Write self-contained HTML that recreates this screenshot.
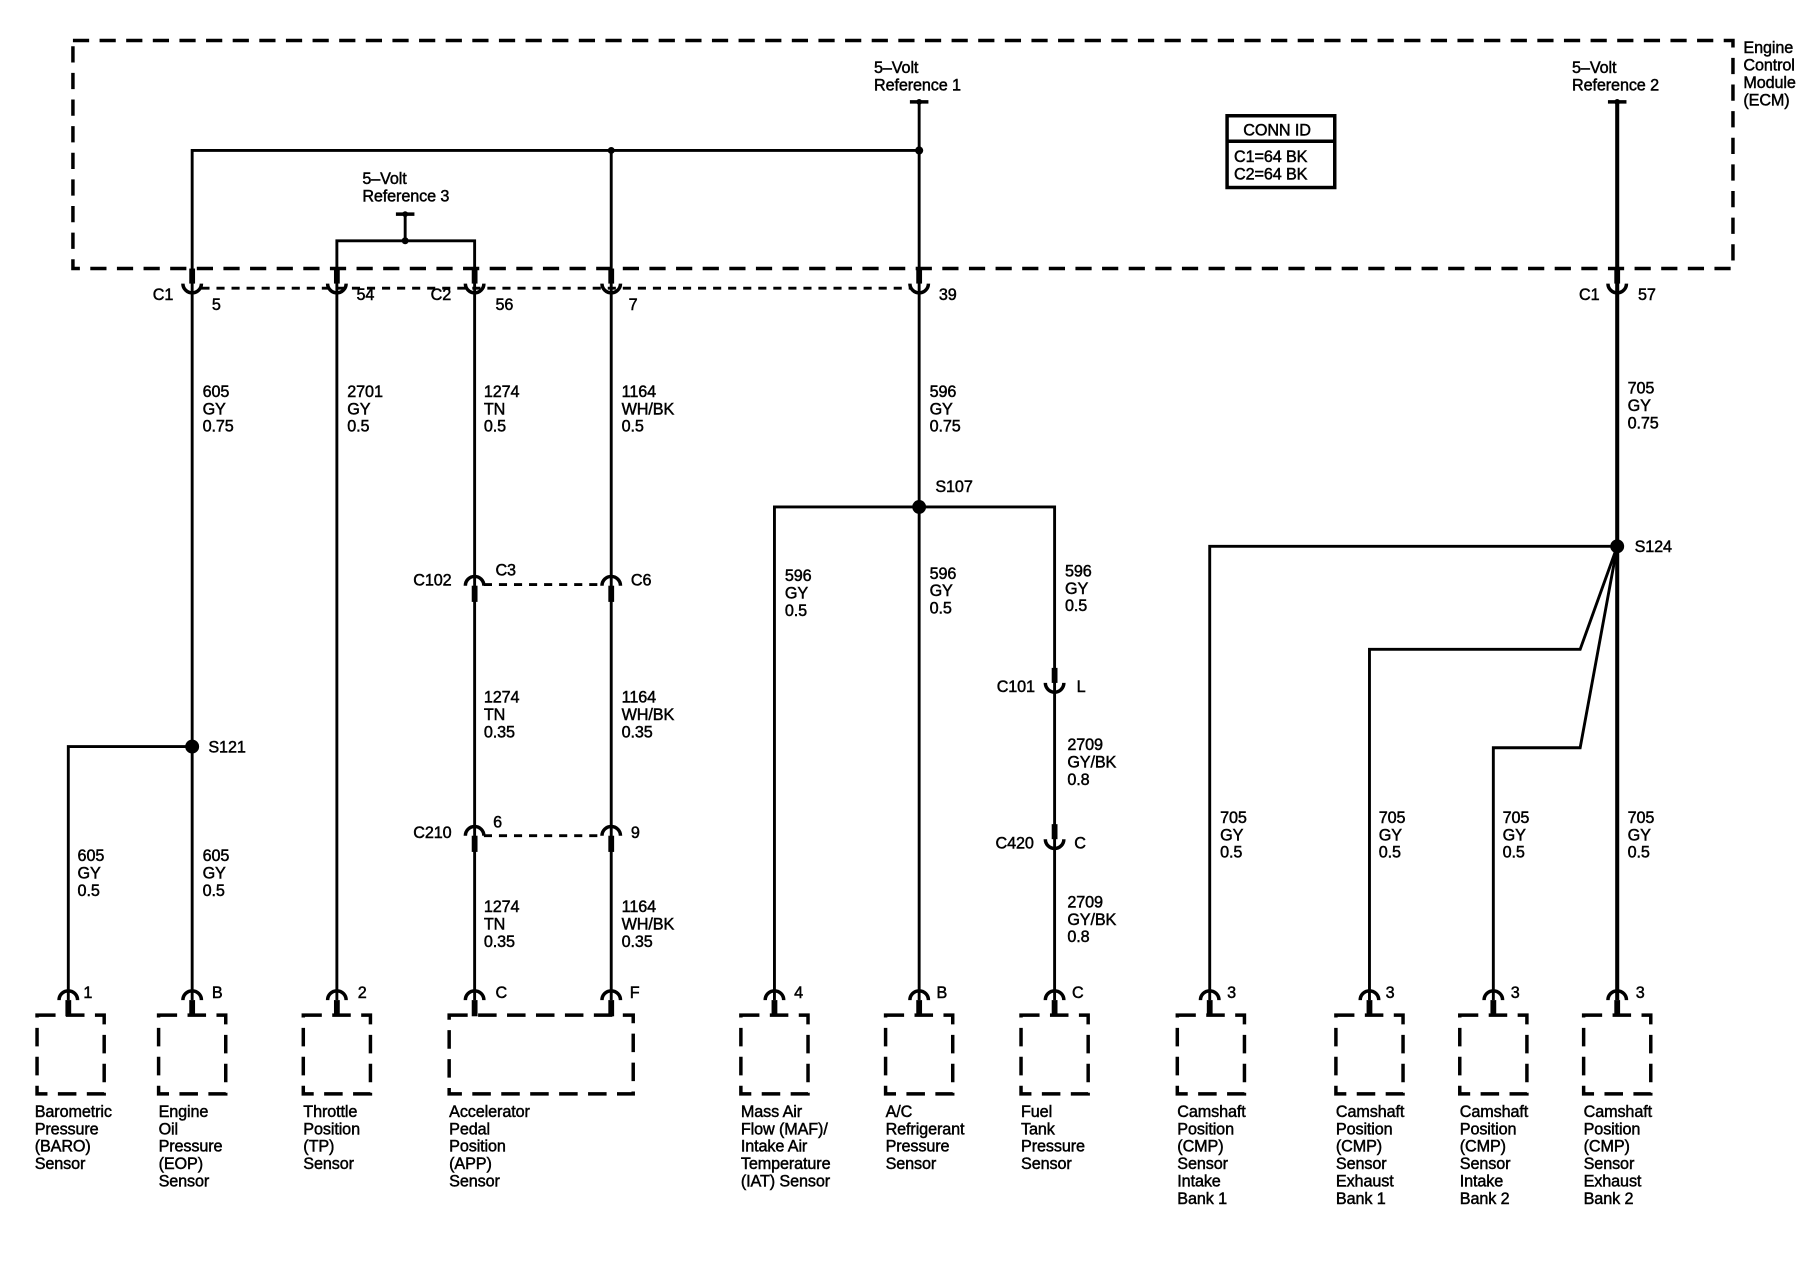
<!DOCTYPE html>
<html><head><meta charset="utf-8"><style>
html,body{margin:0;padding:0;background:#fff;}
svg{display:block;}
text{font-family:"Liberation Sans",sans-serif;font-size:14px;fill:#000;letter-spacing:-0.1px;stroke:#000;stroke-width:0.4px;}
</style></head><body>
<svg width="1814" height="1264" viewBox="0 0 1567 1092" preserveAspectRatio="none" xmlns="http://www.w3.org/2000/svg">
<defs>
<g id="cu"><path d="M-8,0 A8,8 0 0 0 8,0" fill="none" stroke="#000" stroke-width="3"/><rect x="-2.5" y="-13" width="5" height="13"/></g>
<g id="ca"><path d="M-8,0 A8,8 0 0 1 8,0" fill="none" stroke="#000" stroke-width="3"/><rect x="-2.5" y="0" width="5" height="14"/></g>
<g id="ref"><line x1="-8" y1="0" x2="8" y2="0" stroke="#000" stroke-width="3"/><circle cx="0" cy="0" r="2.5"/></g>
</defs>
<g fill="none" stroke="#000" stroke-width="3" stroke-dasharray="14 9">
<rect x="63" y="35" width="1434" height="197"/>
</g>
<g fill="none" stroke="#000" stroke-width="3" stroke-dasharray="16 9">
<rect x="32" y="877" width="58" height="68"/>
<rect x="137" y="877" width="58" height="68"/>
<rect x="262" y="877" width="58" height="68"/>
<rect x="388" y="877" width="159" height="68"/>
<rect x="640" y="877" width="58" height="68"/>
<rect x="765" y="877" width="58" height="68"/>
<rect x="882" y="877" width="58" height="68"/>
<rect x="1017" y="877" width="58" height="68"/>
<rect x="1154" y="877" width="58" height="68"/>
<rect x="1261" y="877" width="58" height="68"/>
<rect x="1368" y="877" width="58" height="68"/>
</g>
<g fill="none" stroke="#000" stroke-width="2.5" stroke-dasharray="7 6">
<line x1="174" y1="249" x2="786" y2="249"/>
<line x1="418" y1="505" x2="520" y2="505"/>
<line x1="418" y1="722" x2="520" y2="722"/>
</g>
<g fill="none" stroke="#000" stroke-width="2.5">
<polyline points="166,864 166,130 794,130"/>
<line x1="794" y1="88" x2="794" y2="864"/>
<line x1="528" y1="130" x2="528" y2="864"/>
<line x1="350" y1="185" x2="350" y2="208"/>
<polyline points="291,864 291,208 410,208 410,864"/>
<polyline points="59,864 59,645 166,645"/>
<polyline points="669,864 669,438 911,438 911,864"/>
<polyline points="1045,864 1045,472 1397,472"/>
<polyline points="1183,864 1183,561 1365,561 1397,472"/>
<polyline points="1290,864 1290,646 1365,646 1397,472"/>
<rect x="1060" y="100" width="93" height="62" stroke-width="3"/>
<line x1="1060" y1="122" x2="1153" y2="122" stroke-width="3"/>
</g>
<line x1="1397" y1="88" x2="1397" y2="864" stroke="#000" stroke-width="3.5"/>
<circle cx="528" cy="130" r="3"/><circle cx="794" cy="130" r="3.5"/><circle cx="350" cy="208" r="3"/>
<circle cx="166" cy="645" r="6"/><circle cx="794" cy="438" r="6"/><circle cx="1397" cy="472" r="6"/>
<use href="#ref" x="794" y="88"/><use href="#ref" x="350" y="185"/><use href="#ref" x="1397" y="88"/>
<use href="#cu" x="166" y="245"/><use href="#cu" x="291" y="245"/><use href="#cu" x="410" y="245"/><use href="#cu" x="528" y="245"/><use href="#cu" x="794" y="245"/><use href="#cu" x="1397" y="245"/>
<use href="#ca" x="410" y="506"/><use href="#ca" x="528" y="506"/><use href="#ca" x="410" y="722"/><use href="#ca" x="528" y="722"/>
<use href="#cu" x="911" y="590"/><use href="#cu" x="911" y="725"/>
<use href="#ca" x="59" y="864"/><use href="#ca" x="166" y="864"/><use href="#ca" x="291" y="864"/><use href="#ca" x="410" y="864"/><use href="#ca" x="528" y="864"/><use href="#ca" x="669" y="864"/><use href="#ca" x="794" y="864"/><use href="#ca" x="911" y="864"/><use href="#ca" x="1045" y="864"/><use href="#ca" x="1183" y="864"/><use href="#ca" x="1290" y="864"/><use href="#ca" x="1397" y="864"/>
<text x="1506" y="46">Engine</text><text x="1506" y="61">Control</text><text x="1506" y="76">Module</text><text x="1506" y="91">(ECM)</text>
<text x="755" y="63">5–Volt</text><text x="755" y="78">Reference 1</text>
<text x="1358" y="63">5–Volt</text><text x="1358" y="78">Reference 2</text>
<text x="313" y="159">5–Volt</text><text x="313" y="174">Reference 3</text>
<text x="1074" y="117">CONN ID</text><text x="1066" y="140">C1=64 BK</text><text x="1066" y="155">C2=64 BK</text>
<text x="132" y="259">C1</text><text x="183" y="268">5</text><text x="308" y="259">54</text><text x="372" y="259">C2</text><text x="428" y="268">56</text><text x="543" y="268">7</text><text x="811" y="259">39</text><text x="1364" y="259">C1</text><text x="1415" y="259">57</text>
<text x="175" y="343">605</text><text x="175" y="358">GY</text><text x="175" y="373">0.75</text>
<text x="300" y="343">2701</text><text x="300" y="358">GY</text><text x="300" y="373">0.5</text>
<text x="418" y="343">1274</text><text x="418" y="358">TN</text><text x="418" y="373">0.5</text>
<text x="537" y="343">1164</text><text x="537" y="358">WH/BK</text><text x="537" y="373">0.5</text>
<text x="803" y="343">596</text><text x="803" y="358">GY</text><text x="803" y="373">0.75</text>
<text x="1406" y="340">705</text><text x="1406" y="355">GY</text><text x="1406" y="370">0.75</text>
<text x="808" y="425">S107</text><text x="1412" y="477">S124</text><text x="180" y="650">S121</text>
<text x="357" y="506">C102</text><text x="428" y="497">C3</text><text x="545" y="506">C6</text>
<text x="357" y="724">C210</text><text x="426" y="715">6</text><text x="545" y="724">9</text>
<text x="418" y="607">1274</text><text x="418" y="622">TN</text><text x="418" y="637">0.35</text>
<text x="537" y="607">1164</text><text x="537" y="622">WH/BK</text><text x="537" y="637">0.35</text>
<text x="418" y="788">1274</text><text x="418" y="803">TN</text><text x="418" y="818">0.35</text>
<text x="537" y="788">1164</text><text x="537" y="803">WH/BK</text><text x="537" y="818">0.35</text>
<text x="678" y="502">596</text><text x="678" y="517">GY</text><text x="678" y="532">0.5</text>
<text x="803" y="500">596</text><text x="803" y="515">GY</text><text x="803" y="530">0.5</text>
<text x="920" y="498">596</text><text x="920" y="513">GY</text><text x="920" y="528">0.5</text>
<text x="861" y="598">C101</text><text x="930" y="598">L</text>
<text x="860" y="733">C420</text><text x="928" y="733">C</text>
<text x="922" y="648">2709</text><text x="922" y="663">GY/BK</text><text x="922" y="678">0.8</text>
<text x="922" y="784">2709</text><text x="922" y="799">GY/BK</text><text x="922" y="814">0.8</text>
<text x="67" y="744">605</text><text x="67" y="759">GY</text><text x="67" y="774">0.5</text>
<text x="175" y="744">605</text><text x="175" y="759">GY</text><text x="175" y="774">0.5</text>
<text x="1054" y="711">705</text><text x="1054" y="726">GY</text><text x="1054" y="741">0.5</text>
<text x="1191" y="711">705</text><text x="1191" y="726">GY</text><text x="1191" y="741">0.5</text>
<text x="1298" y="711">705</text><text x="1298" y="726">GY</text><text x="1298" y="741">0.5</text>
<text x="1406" y="711">705</text><text x="1406" y="726">GY</text><text x="1406" y="741">0.5</text>
<text x="72" y="862">1</text><text x="183" y="862">B</text><text x="309" y="862">2</text><text x="428" y="862">C</text><text x="544" y="862">F</text><text x="686" y="862">4</text><text x="809" y="862">B</text><text x="926" y="862">C</text><text x="1060" y="862">3</text><text x="1197" y="862">3</text><text x="1305" y="862">3</text><text x="1413" y="862">3</text>
<text x="30" y="965">Barometric</text><text x="30" y="980">Pressure</text><text x="30" y="995">(BARO)</text><text x="30" y="1010">Sensor</text>
<text x="137" y="965">Engine</text><text x="137" y="980">Oil</text><text x="137" y="995">Pressure</text><text x="137" y="1010">(EOP)</text><text x="137" y="1025">Sensor</text>
<text x="262" y="965">Throttle</text><text x="262" y="980">Position</text><text x="262" y="995">(TP)</text><text x="262" y="1010">Sensor</text>
<text x="388" y="965">Accelerator</text><text x="388" y="980">Pedal</text><text x="388" y="995">Position</text><text x="388" y="1010">(APP)</text><text x="388" y="1025">Sensor</text>
<text x="640" y="965">Mass Air</text><text x="640" y="980">Flow (MAF)/</text><text x="640" y="995">Intake Air</text><text x="640" y="1010">Temperature</text><text x="640" y="1025">(IAT) Sensor</text>
<text x="765" y="965">A/C</text><text x="765" y="980">Refrigerant</text><text x="765" y="995">Pressure</text><text x="765" y="1010">Sensor</text>
<text x="882" y="965">Fuel</text><text x="882" y="980">Tank</text><text x="882" y="995">Pressure</text><text x="882" y="1010">Sensor</text>
<text x="1017" y="965">Camshaft</text><text x="1017" y="980">Position</text><text x="1017" y="995">(CMP)</text><text x="1017" y="1010">Sensor</text><text x="1017" y="1025">Intake</text><text x="1017" y="1040">Bank 1</text>
<text x="1154" y="965">Camshaft</text><text x="1154" y="980">Position</text><text x="1154" y="995">(CMP)</text><text x="1154" y="1010">Sensor</text><text x="1154" y="1025">Exhaust</text><text x="1154" y="1040">Bank 1</text>
<text x="1261" y="965">Camshaft</text><text x="1261" y="980">Position</text><text x="1261" y="995">(CMP)</text><text x="1261" y="1010">Sensor</text><text x="1261" y="1025">Intake</text><text x="1261" y="1040">Bank 2</text>
<text x="1368" y="965">Camshaft</text><text x="1368" y="980">Position</text><text x="1368" y="995">(CMP)</text><text x="1368" y="1010">Sensor</text><text x="1368" y="1025">Exhaust</text><text x="1368" y="1040">Bank 2</text>
</svg>
</body></html>
